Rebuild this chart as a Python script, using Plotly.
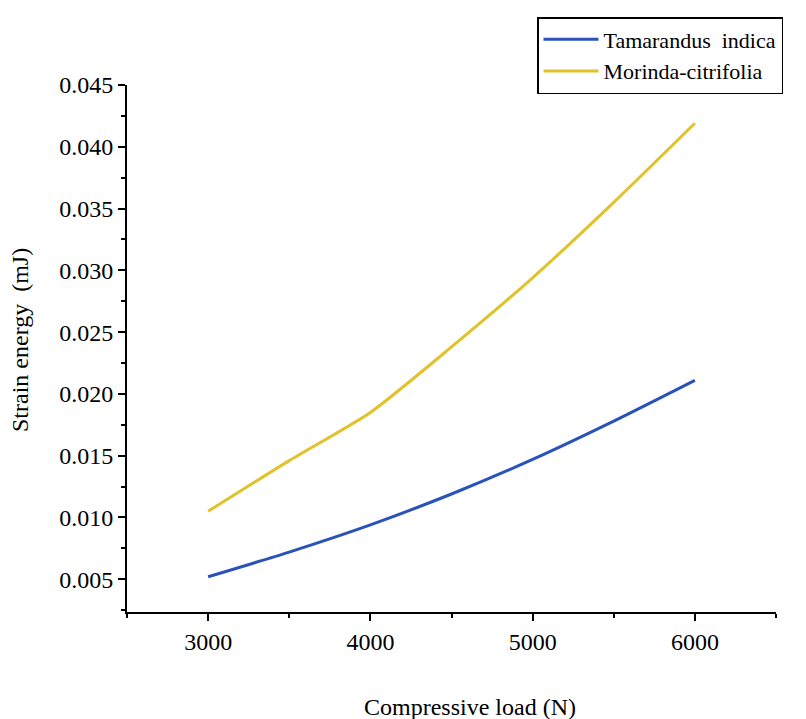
import plotly.graph_objects as go

load_n = [3000, 3500, 4000, 4500, 5000, 5500, 6000]
tamarandus = [0.0052, 0.0072, 0.0094, 0.0119, 0.0147, 0.0178, 0.0211]
morinda = [0.0105, 0.0146, 0.0185, 0.0238, 0.0294, 0.0355, 0.0419]

x_ticks = [3000, 4000, 5000, 6000]
y_ticks = [0.005, 0.010, 0.015, 0.020, 0.025, 0.030, 0.035, 0.040, 0.045]
y_tick_text = ["0.005", "0.010", "0.015", "0.020", "0.025", "0.030", "0.035", "0.040", "0.045"]

FONT = "Liberation Serif"
OFF = 8  # page body margin offset

fig = go.Figure()
fig.add_trace(go.Scatter(x=load_n, y=tamarandus, mode="lines", name="Tamarandus  indica",
                         line=dict(color="#2a52b8", width=3, shape="spline", smoothing=0.6),
                         legendgroup="a"))
fig.add_trace(go.Scatter(x=load_n, y=morinda, mode="lines", name="Morinda-citrifolia",
                         line=dict(color="#e2c22a", width=3, shape="spline", smoothing=0.6),
                         legendgroup="b"))

axis_common = dict(showline=True, linecolor="black", linewidth=2, showgrid=False,
                   zeroline=False, ticks="outside", tickcolor="black", ticklen=7, tickwidth=2,
                   tickfont=dict(family=FONT, size=24, color="black"))

fig.update_xaxes(range=[2500, 6500], tickvals=x_ticks,
                 minor=dict(dtick=500, tick0=2500, ticks="outside", ticklen=4, tickwidth=2, tickcolor="black"),
                 **axis_common)
fig.update_yaxes(range=[0.00235, 0.045], tickvals=y_ticks, ticktext=y_tick_text,
                 minor=dict(dtick=0.0025, tick0=0.0025, ticks="outside", ticklen=4, tickwidth=2, tickcolor="black"),
                 **axis_common)

ML, MR, MT, MB = 127 - OFF, 30 + OFF, 85 - OFF, 107 + OFF
W, H = 806, 719
W_plot = W - ML - MR
H_plot = H - MT - MB


def px_to_paper(px, py):
    # px, py are screen pixel positions
    return (px - OFF - ML) / W_plot, (H - MB - (py - OFF)) / H_plot


lx, ly = px_to_paper(537, 17)
tx, ty = px_to_paper(470, 707)
yx, yy = px_to_paper(20, 340)

fig.update_layout(
    width=W, height=H,
    margin=dict(l=ML, r=MR, t=MT, b=MB, autoexpand=False),
    plot_bgcolor="white", paper_bgcolor="white",
    font=dict(family=FONT, color="black"),
    showlegend=True,
    legend=dict(x=lx, y=ly, xanchor="left", yanchor="top",
                bordercolor="black", borderwidth=1.5, bgcolor="white",
                font=dict(family=FONT, size=22, color="black"),
                traceorder="grouped", tracegroupgap=0, itemwidth=55),
    annotations=[
        dict(text="Compressive load (N)", x=tx, y=ty, xref="paper", yref="paper",
             xanchor="center", yanchor="middle",
             showarrow=False, font=dict(family=FONT, size=24, color="black")),
        dict(text="Strain energy  (mJ)", x=yx, y=yy, xref="paper", yref="paper",
             xanchor="center", yanchor="middle",
             showarrow=False, textangle=-90, font=dict(family=FONT, size=24, color="black")),
    ],
)

fig.write_html("out.html")
